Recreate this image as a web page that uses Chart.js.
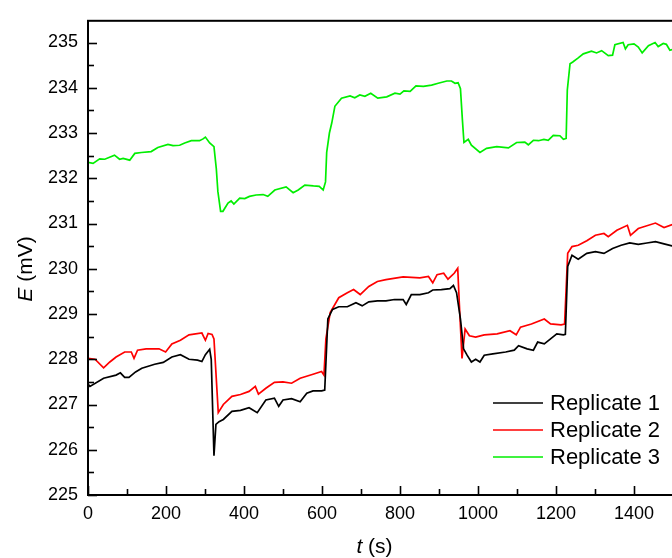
<!DOCTYPE html>
<html>
<head>
<meta charset="utf-8">
<script src="https://cdn.jsdelivr.net/npm/chart.js@4.4.0/dist/chart.umd.min.js"></script>
<style>
html,body{margin:0;padding:0;background:#fff;overflow:hidden;}
#wrap{width:680px;height:558px;}
</style>
</head>
<body>
<div id="wrap"><canvas id="c" width="680" height="558"></canvas></div>
<script>
const seriesLabels = ["Replicate 1", "Replicate 2", "Replicate 3"];
const seriesColors = ["#000000", "#ff0000", "#00ee00"];

const t1 = [0,5,40,72,83,94,105,122,138,171,193,215,237,259,281,292,301,312,316,323,328,336,347,369,391,413,434,456,478,489,500,522,544,561,577,599,607,615,627,643,665,687,703,720,742,764,786,808,816,829,851,873,884,906,928,937,945,955,963,972,983,994,1005,1016,1038,1071,1093,1104,1126,1142,1153,1170,1186,1202,1219,1224,1230,1241,1257,1279,1301,1323,1345,1367,1389,1411,1433,1455,1477,1500];
const e1 = [227.45,227.4,227.58,227.65,227.7,227.6,227.6,227.72,227.8,227.89,227.93,228.05,228.1,228.0,227.98,227.95,228.1,228.22,228.0,225.87,226.56,226.62,226.67,226.85,226.87,226.93,226.82,227.1,227.14,226.96,227.1,227.13,227.06,227.25,227.3,227.3,227.32,228.89,229.1,229.16,229.16,229.25,229.18,229.27,229.29,229.29,229.32,229.32,229.21,229.43,229.43,229.47,229.53,229.54,229.56,229.63,229.47,228.89,228.23,228.09,227.94,228.0,227.94,228.09,228.12,228.16,228.2,228.3,228.23,228.2,228.38,228.34,228.45,228.56,228.54,228.55,230.05,230.3,230.21,230.34,230.38,230.34,230.45,230.52,230.57,230.54,230.57,230.6,230.55,230.5];

const t2 = [0,18,40,56,72,94,111,118,127,149,182,199,215,237,259,292,301,308,318,323,334,347,369,391,413,429,437,456,478,500,522,544,577,599,605,610,621,643,665,681,698,720,742,764,808,851,873,884,895,912,923,939,948,952,959,967,978,994,1016,1049,1082,1098,1109,1137,1170,1186,1213,1222,1230,1241,1257,1279,1301,1323,1334,1356,1383,1391,1411,1455,1477,1500];
const e2 = [228.02,228.0,227.81,227.94,228.05,228.16,228.16,228.02,228.2,228.23,228.23,228.16,228.34,228.42,228.54,228.58,228.42,228.57,228.55,228.45,226.82,227.0,227.18,227.22,227.29,227.4,227.23,227.36,227.49,227.5,227.47,227.58,227.67,227.73,227.65,228.45,229.03,229.36,229.47,229.54,229.43,229.61,229.72,229.76,229.82,229.8,229.83,229.69,229.87,229.9,229.77,229.9,230.01,229.25,228.02,228.67,228.52,228.49,228.54,228.56,228.63,228.54,228.71,228.78,228.89,228.78,228.76,228.78,230.34,230.49,230.52,230.62,230.74,230.78,230.71,230.85,230.96,230.74,230.89,231.01,230.91,230.98];

const t3 = [0,13,30,43,68,81,90,107,120,137,162,179,205,218,235,248,265,286,295,301,312,323,329,333,340,346,359,367,374,389,402,414,431,449,461,479,508,526,539,556,578,593,603,609,612,619,625,633,650,672,684,697,710,725,743,766,787,800,810,826,841,860,881,898,920,932,941,949,955,960,964,975,983,1005,1022,1048,1078,1099,1120,1129,1142,1155,1169,1180,1193,1210,1219,1226,1229,1236,1243,1257,1270,1291,1304,1317,1334,1345,1351,1372,1378,1385,1400,1411,1421,1437,1454,1462,1475,1483,1492,1500];
const e3 = [232.35,232.33,232.43,232.42,232.51,232.42,232.44,232.40,232.55,232.57,232.59,232.68,232.75,232.72,232.73,232.78,232.83,232.83,232.87,232.91,232.78,232.7,232.21,231.71,231.27,231.27,231.45,231.5,231.43,231.56,231.55,231.6,231.63,231.64,231.6,231.74,231.81,231.68,231.74,231.85,231.83,231.82,231.74,231.92,232.57,233.0,233.22,233.59,233.77,233.82,233.78,233.84,233.81,233.88,233.77,233.8,233.88,233.86,233.93,233.92,234.04,234.03,234.06,234.1,234.15,234.15,234.1,234.11,233.98,233.29,232.79,232.86,232.73,232.57,232.66,232.7,232.67,232.79,232.8,232.74,232.84,232.83,232.86,232.84,232.95,232.94,232.86,232.88,233.95,234.53,234.57,234.66,234.75,234.81,234.77,234.82,234.71,234.72,234.95,235.0,234.86,234.95,234.97,234.9,234.77,234.93,235.0,234.91,234.98,234.96,234.83,234.85];

const xTicks = [0,200,400,600,800,1000,1200,1400];
const yTicks = [225,226,227,228,229,230,231,232,233,234,235];

const FONT = "'Liberation Sans', Arial, Helvetica, sans-serif";

function pts(t, e){ return t.map((v,i)=>({x:v, y:e[i]})); }

const datasets = [[t1,e1],[t2,e2],[t3,e3]].map((d,i)=>({
  label: seriesLabels[i],
  data: pts(d[0], d[1]),
  borderColor: seriesColors[i],
  backgroundColor: seriesColors[i],
  borderWidth: 1.7,
  pointRadius: 0,
  tension: 0,
  fill: false
}));

const decor = {
  id: 'decor',
  afterDatasetsDraw(chart){
    const ctx = chart.ctx;
    const a = chart.chartArea;
    const xs = chart.scales.x, ys = chart.scales.y;
    ctx.save();
    ctx.strokeStyle = '#000';
    ctx.lineWidth = 2;
    ctx.strokeRect(a.left, a.top, a.right - a.left, a.bottom - a.top);
    ctx.lineWidth = 1.6;
    for (let v = 0; v <= 1500; v += 100) {
      const px = Math.round(xs.getPixelForValue(v)) + 0.5;
      const len = (v % 200 === 0) ? 9 : 6;
      ctx.beginPath(); ctx.moveTo(px, a.bottom); ctx.lineTo(px, a.bottom - len); ctx.stroke();
    }
    for (let v = 225; v <= 235.01; v += 0.5) {
      const py = Math.round(ys.getPixelForValue(v)) + 0.5;
      const len = (Math.abs(v - Math.round(v)) < 1e-6) ? 9 : 6;
      ctx.beginPath(); ctx.moveTo(a.left, py); ctx.lineTo(a.left + len, py); ctx.stroke();
    }
    ctx.fillStyle = '#000';
    ctx.textBaseline = 'middle';
    ctx.font = 'italic 21px ' + FONT;
    const tW = ctx.measureText('t').width;
    ctx.font = '21px ' + FONT;
    const rW = ctx.measureText(' (s)').width;
    let sx = (a.left + a.right) / 2 - 6 - (tW + rW) / 2;
    ctx.font = 'italic 21px ' + FONT;
    ctx.textAlign = 'left';
    ctx.fillText('t', sx, 547);
    ctx.font = '21px ' + FONT;
    ctx.fillText(' (s)', sx + tW, 547);
    ctx.save();
    ctx.translate(26, 269);
    ctx.rotate(-Math.PI / 2);
    ctx.font = 'italic 21px ' + FONT;
    const eW = ctx.measureText('E').width;
    ctx.font = '21px ' + FONT;
    const mW = ctx.measureText(' (mV)').width;
    const s0 = -(eW + mW) / 2;
    ctx.font = 'italic 21px ' + FONT;
    ctx.fillText('E', s0, 0);
    ctx.font = '21px ' + FONT;
    ctx.fillText(' (mV)', s0 + eW, 0);
    ctx.restore();
    ctx.font = '22px ' + FONT;
    ctx.textAlign = 'left';
    chart.data.datasets.forEach((ds, i) => {
      const y = 403 + i * 27;
      ctx.strokeStyle = ds.borderColor;
      ctx.lineWidth = 1.7;
      ctx.beginPath(); ctx.moveTo(493, y); ctx.lineTo(543, y); ctx.stroke();
      ctx.fillStyle = '#000';
      ctx.fillText(ds.label, 550, y + 1);
    });
    ctx.restore();
  }
};

new Chart(document.getElementById('c'), {
  type: 'line',
  data: { datasets },
  options: {
    responsive: false,
    animation: false,
    events: [],
    layout: { padding: { top: 13, right: 7, left: 0, bottom: 0 } },
    plugins: { legend: { display: false }, tooltip: { enabled: false } },
    scales: {
      x: {
        type: 'linear', min: 0, max: 1500,
        afterFit(s){ s.height = 63; },
        afterBuildTicks(s){ s.ticks = xTicks.map(v => ({ value: v })); },
        grid: { display: false, drawTicks: false },
        border: { display: false },
        ticks: { color: '#000', padding: 8, maxRotation: 0, autoSkip: false, font: { family: FONT, size: 18 }, callback: v => String(v) }
      },
      y: {
        type: 'linear', min: 225, max: 235.48,
        afterFit(s){ s.width = 88; },
        afterBuildTicks(s){ s.ticks = yTicks.map(v => ({ value: v })); },
        grid: { display: false, drawTicks: false },
        border: { display: false },
        ticks: { color: '#000', padding: 10, autoSkip: false, font: { family: FONT, size: 18 }, callback: v => String(v) }
      }
    }
  },
  plugins: [decor]
});
</script>
</body>
</html>
